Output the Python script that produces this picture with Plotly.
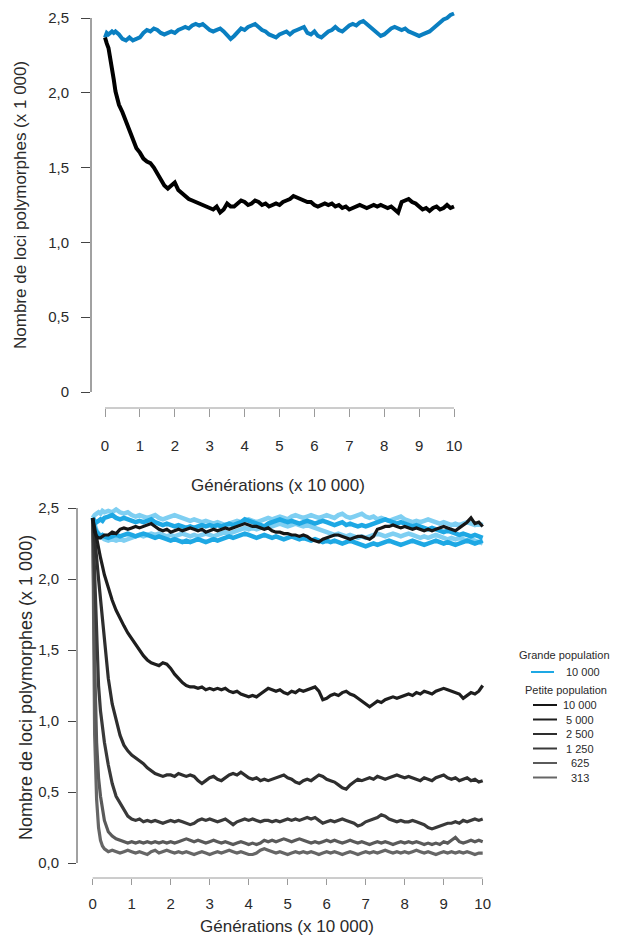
import plotly.graph_objects as go

# ---------------- data ----------------
GEN = [0, 0.02, 0.05, 0.1, 0.15, 0.2, 0.25, 0.3, 0.4, 0.5, 0.6, 0.7, 0.8, 0.9, 1.0,
       1.1, 1.2, 1.3, 1.4, 1.5, 1.6, 1.7, 1.8, 1.9, 2.0,
       2.1, 2.2, 2.3, 2.4, 2.5, 2.6, 2.7, 2.8, 2.9, 3.0,
       3.1, 3.2, 3.3, 3.4, 3.5, 3.6, 3.7, 3.8, 3.9, 4.0,
       4.1, 4.2, 4.3, 4.4, 4.5, 4.6, 4.7, 4.8, 4.9, 5.0,
       5.1, 5.2, 5.3, 5.4, 5.5, 5.6, 5.7, 5.8, 5.9, 6.0,
       6.1, 6.2, 6.3, 6.4, 6.5, 6.6, 6.7, 6.8, 6.9, 7.0,
       7.1, 7.2, 7.3, 7.4, 7.5, 7.6, 7.7, 7.8, 7.9, 8.0,
       8.1, 8.2, 8.3, 8.4, 8.5, 8.6, 8.7, 8.8, 8.9, 9.0,
       9.1, 9.2, 9.3, 9.4, 9.5, 9.6, 9.7, 9.8, 9.9, 10.0]

# Top chart
TOP_GRANDE = [2.37, 2.38, 2.40, 2.39, 2.40, 2.41, 2.40, 2.41, 2.39, 2.36, 2.35, 2.37, 2.35, 2.36, 2.37,
              2.40, 2.42, 2.41, 2.43, 2.42, 2.40, 2.39, 2.40, 2.41, 2.40,
              2.42, 2.43, 2.44, 2.43, 2.45, 2.46, 2.45, 2.46, 2.44, 2.42,
              2.41, 2.42, 2.43, 2.41, 2.38, 2.36, 2.38, 2.41, 2.43, 2.42,
              2.44, 2.45, 2.46, 2.44, 2.42, 2.41, 2.39, 2.38, 2.37, 2.39,
              2.40, 2.41, 2.39, 2.41, 2.42, 2.43, 2.44, 2.40, 2.39, 2.41,
              2.38, 2.37, 2.39, 2.41, 2.42, 2.44, 2.42, 2.41, 2.43, 2.45,
              2.46, 2.45, 2.47, 2.48, 2.46, 2.44, 2.42, 2.40, 2.38, 2.39,
              2.41, 2.43, 2.44, 2.43, 2.42, 2.43, 2.41, 2.40, 2.39, 2.38,
              2.39, 2.40, 2.41, 2.43, 2.45, 2.47, 2.49, 2.50, 2.52, 2.53]
TOP_PETITE = [2.37, 2.35, 2.33, 2.30, 2.24, 2.16, 2.09, 2.01, 1.92, 1.87, 1.81, 1.75, 1.68, 1.63, 1.60,
              1.56, 1.54, 1.53, 1.50, 1.46, 1.42, 1.38, 1.36, 1.38, 1.40,
              1.35, 1.33, 1.31, 1.29, 1.28, 1.27, 1.26, 1.25, 1.24, 1.23,
              1.22, 1.24, 1.20, 1.22, 1.26, 1.24, 1.24, 1.26, 1.28, 1.27,
              1.25, 1.26, 1.28, 1.27, 1.25, 1.26, 1.24, 1.25, 1.26, 1.25,
              1.27, 1.28, 1.29, 1.31, 1.30, 1.29, 1.28, 1.27, 1.27, 1.25,
              1.24, 1.25, 1.26, 1.25, 1.26, 1.24, 1.25, 1.23, 1.24, 1.22,
              1.23, 1.24, 1.25, 1.24, 1.23, 1.24, 1.25, 1.24, 1.25, 1.24,
              1.23, 1.24, 1.22, 1.20, 1.27, 1.28, 1.29, 1.27, 1.26, 1.24,
              1.22, 1.23, 1.21, 1.23, 1.24, 1.22, 1.23, 1.25, 1.23, 1.24]

# Bottom chart : grande population (10 000), four replicates
BOT_GRANDE_A = [2.43, 2.44, 2.45, 2.46, 2.47, 2.46, 2.48, 2.47, 2.48, 2.47, 2.49, 2.47, 2.46, 2.47, 2.45,
                2.44, 2.45, 2.44, 2.43, 2.44, 2.45, 2.43, 2.42, 2.43, 2.44,
                2.45, 2.44, 2.43, 2.42, 2.41, 2.42, 2.41, 2.40, 2.41, 2.40,
                2.39, 2.40, 2.39, 2.38, 2.39, 2.40, 2.41, 2.40, 2.41, 2.42,
                2.41, 2.40, 2.41, 2.42, 2.43, 2.42, 2.43, 2.44, 2.43, 2.42,
                2.44, 2.45, 2.44, 2.43, 2.44, 2.45, 2.44, 2.43, 2.44, 2.45,
                2.44, 2.43, 2.45, 2.46, 2.44, 2.43, 2.44, 2.45, 2.46, 2.44,
                2.43, 2.44, 2.42, 2.43, 2.42, 2.41, 2.42, 2.43, 2.44, 2.42,
                2.41, 2.40, 2.41, 2.40, 2.41, 2.42, 2.41, 2.40, 2.39, 2.40,
                2.39, 2.38, 2.39, 2.38, 2.39, 2.40, 2.39, 2.38, 2.39, 2.38]
BOT_GRANDE_B = [2.43, 2.42, 2.41, 2.40, 2.41, 2.42, 2.41, 2.43, 2.44, 2.45, 2.43, 2.42, 2.43, 2.42, 2.41,
                2.40, 2.41, 2.40, 2.41, 2.42, 2.40, 2.39, 2.38, 2.39, 2.38,
                2.37, 2.38, 2.37, 2.36, 2.37, 2.36, 2.37, 2.38, 2.37, 2.38,
                2.37, 2.38, 2.37, 2.38, 2.39, 2.38, 2.39, 2.40, 2.42, 2.41,
                2.40, 2.39, 2.38, 2.37, 2.39, 2.40, 2.41, 2.42, 2.41, 2.40,
                2.41, 2.40, 2.39, 2.40, 2.41, 2.40, 2.39, 2.40, 2.41, 2.40,
                2.39, 2.38, 2.39, 2.40, 2.38, 2.39, 2.38, 2.37, 2.38, 2.37,
                2.38, 2.39, 2.40, 2.41, 2.42, 2.41, 2.40, 2.39, 2.40, 2.39,
                2.38, 2.37, 2.38, 2.37, 2.36, 2.35, 2.36, 2.35, 2.34, 2.33,
                2.34, 2.33, 2.32, 2.31, 2.32, 2.31, 2.30, 2.31, 2.30, 2.29]
BOT_GRANDE_C = [2.43, 2.40, 2.36, 2.33, 2.31, 2.30, 2.31, 2.30, 2.29, 2.30, 2.31, 2.30, 2.31, 2.32, 2.31,
                2.30, 2.31, 2.32, 2.31, 2.30, 2.29, 2.30, 2.29, 2.28, 2.27,
                2.28, 2.27, 2.26, 2.27, 2.26, 2.27, 2.28, 2.27, 2.26, 2.27,
                2.28, 2.27, 2.28, 2.29, 2.30, 2.29, 2.30, 2.31, 2.32, 2.31,
                2.30, 2.29, 2.30, 2.31, 2.30, 2.29, 2.30, 2.29, 2.28, 2.29,
                2.30, 2.29, 2.28, 2.29, 2.28, 2.27, 2.28, 2.27, 2.26, 2.27,
                2.26, 2.27, 2.26, 2.25, 2.26, 2.27, 2.26, 2.25, 2.24, 2.23,
                2.24, 2.25, 2.24, 2.25, 2.26, 2.27, 2.26, 2.25, 2.24, 2.25,
                2.26, 2.27, 2.26, 2.25, 2.24, 2.25, 2.26, 2.27, 2.26, 2.25,
                2.26, 2.25, 2.24, 2.25, 2.26, 2.27, 2.26, 2.25, 2.26, 2.27]
BOT_GRANDE_D = [2.43, 2.41, 2.38, 2.34, 2.32, 2.30, 2.29, 2.28, 2.27, 2.28, 2.27, 2.28, 2.27, 2.28, 2.29,
                2.30, 2.31, 2.30, 2.31, 2.32, 2.31, 2.32, 2.31, 2.30, 2.31,
                2.30, 2.31, 2.32, 2.31, 2.30, 2.31, 2.30, 2.31, 2.32, 2.31,
                2.30, 2.31, 2.32, 2.33, 2.32, 2.33, 2.34, 2.35, 2.36, 2.35,
                2.36, 2.35, 2.36, 2.37, 2.38, 2.37, 2.38, 2.39, 2.38, 2.37,
                2.38, 2.39, 2.38, 2.37, 2.38, 2.37, 2.36, 2.35, 2.34, 2.33,
                2.32, 2.31, 2.32, 2.31, 2.30, 2.31, 2.30, 2.29, 2.30, 2.29,
                2.30, 2.31, 2.32, 2.31, 2.30, 2.31, 2.32, 2.31, 2.30, 2.31,
                2.32, 2.31, 2.30, 2.29, 2.30, 2.29, 2.30, 2.31, 2.30, 2.29,
                2.28, 2.29, 2.28, 2.29, 2.28, 2.27, 2.28, 2.27, 2.26, 2.25]

# Bottom chart : petite population
BOT_PETITE_10000 = [2.43, 2.38, 2.33, 2.30, 2.29, 2.29, 2.30, 2.31, 2.31, 2.33, 2.32, 2.35, 2.36, 2.35, 2.36,
                    2.37, 2.36, 2.37, 2.38, 2.39, 2.37, 2.35, 2.34, 2.35, 2.33,
                    2.34, 2.35, 2.34, 2.35, 2.36, 2.35, 2.34, 2.35, 2.33, 2.34,
                    2.35, 2.34, 2.35, 2.36, 2.35, 2.36, 2.37, 2.38, 2.39, 2.38,
                    2.37, 2.37, 2.36, 2.35, 2.36, 2.34, 2.33, 2.33, 2.32, 2.32,
                    2.31, 2.31, 2.30, 2.31, 2.30, 2.28, 2.27, 2.26, 2.28, 2.29,
                    2.30, 2.31, 2.31, 2.30, 2.29, 2.28, 2.29, 2.30, 2.30, 2.29,
                    2.28, 2.30, 2.35, 2.36, 2.37, 2.37, 2.38, 2.37, 2.36, 2.37,
                    2.36, 2.35, 2.36, 2.35, 2.34, 2.35, 2.34, 2.35, 2.36, 2.37,
                    2.36, 2.35, 2.34, 2.36, 2.38, 2.40, 2.43, 2.39, 2.40, 2.37]
BOT_PETITE_5000 = [2.43, 2.40, 2.36, 2.29, 2.22, 2.15, 2.09, 2.03, 1.94, 1.85, 1.78, 1.72, 1.67, 1.62, 1.58,
                   1.54, 1.50, 1.46, 1.43, 1.41, 1.40, 1.39, 1.41, 1.40, 1.37,
                   1.33, 1.30, 1.27, 1.25, 1.24, 1.24, 1.23, 1.24, 1.22, 1.23,
                   1.22, 1.23, 1.22, 1.23, 1.21, 1.20, 1.21, 1.19, 1.18, 1.17,
                   1.18, 1.17, 1.19, 1.21, 1.23, 1.22, 1.21, 1.22, 1.20, 1.19,
                   1.21, 1.20, 1.22, 1.21, 1.22, 1.23, 1.24, 1.21, 1.15, 1.16,
                   1.18, 1.19, 1.18, 1.20, 1.21, 1.19, 1.18, 1.16, 1.14, 1.12,
                   1.10, 1.12, 1.14, 1.13, 1.15, 1.16, 1.17, 1.16, 1.17, 1.18,
                   1.19, 1.18, 1.20, 1.19, 1.21, 1.20, 1.19, 1.21, 1.22, 1.23,
                   1.22, 1.21, 1.20, 1.19, 1.16, 1.18, 1.20, 1.19, 1.21, 1.25]
BOT_PETITE_2500 = [2.43, 2.38, 2.30, 2.15, 2.00, 1.85, 1.70, 1.56, 1.30, 1.12, 1.00, 0.90, 0.83, 0.79, 0.76,
                   0.74, 0.72, 0.70, 0.67, 0.65, 0.63, 0.62, 0.61, 0.62, 0.62,
                   0.61, 0.63, 0.62, 0.61, 0.62, 0.61, 0.58, 0.56, 0.58, 0.60,
                   0.61, 0.59, 0.58, 0.60, 0.62, 0.63, 0.62, 0.64, 0.62, 0.60,
                   0.59, 0.60, 0.58, 0.59, 0.58, 0.59, 0.60, 0.61, 0.62, 0.60,
                   0.59, 0.57, 0.56, 0.58, 0.59, 0.58, 0.60, 0.62, 0.61, 0.59,
                   0.58, 0.57, 0.55, 0.53, 0.52, 0.55, 0.57, 0.59, 0.58, 0.59,
                   0.60, 0.59, 0.61, 0.60, 0.59, 0.60, 0.61, 0.62, 0.61, 0.60,
                   0.61, 0.60, 0.59, 0.58, 0.60, 0.59, 0.58, 0.60, 0.61, 0.62,
                   0.60, 0.59, 0.60, 0.58, 0.59, 0.60, 0.58, 0.59, 0.57, 0.58]
BOT_PETITE_1250 = [2.43, 2.25, 2.00, 1.55, 1.25, 1.07, 0.95, 0.85, 0.69, 0.56, 0.47, 0.42, 0.37, 0.33, 0.31,
                   0.30, 0.31, 0.29, 0.30, 0.29, 0.30, 0.29, 0.28, 0.29, 0.30,
                   0.29, 0.30, 0.29, 0.28, 0.27, 0.28, 0.30, 0.31, 0.30, 0.31,
                   0.30, 0.29, 0.30, 0.31, 0.29, 0.27, 0.29, 0.30, 0.31, 0.30,
                   0.31, 0.30, 0.29, 0.30, 0.30, 0.29, 0.30, 0.29, 0.30, 0.31,
                   0.30, 0.31, 0.30, 0.31, 0.32, 0.31, 0.32, 0.30, 0.28, 0.29,
                   0.30, 0.29, 0.30, 0.31, 0.30, 0.29, 0.28, 0.26, 0.27, 0.29,
                   0.30, 0.31, 0.32, 0.34, 0.33, 0.31, 0.30, 0.29, 0.30, 0.29,
                   0.29, 0.30, 0.29, 0.28, 0.27, 0.25, 0.24, 0.25, 0.26, 0.27,
                   0.28, 0.28, 0.29, 0.28, 0.30, 0.29, 0.30, 0.31, 0.30, 0.31]
BOT_PETITE_625 = [2.43, 2.00, 1.40, 0.85, 0.60, 0.47, 0.38, 0.30, 0.22, 0.19, 0.17, 0.16, 0.15, 0.14, 0.15,
                  0.14, 0.15, 0.14, 0.15, 0.14, 0.15, 0.14, 0.15, 0.14, 0.15,
                  0.14, 0.15, 0.16, 0.17, 0.16, 0.15, 0.16, 0.15, 0.14, 0.15,
                  0.16, 0.15, 0.14, 0.15, 0.14, 0.13, 0.14, 0.15, 0.14, 0.13,
                  0.14, 0.13, 0.14, 0.16, 0.15, 0.16, 0.15, 0.16, 0.17, 0.16,
                  0.15, 0.16, 0.17, 0.16, 0.15, 0.14, 0.15, 0.14, 0.15, 0.16,
                  0.15, 0.16, 0.15, 0.14, 0.15, 0.16, 0.15, 0.14, 0.15, 0.14,
                  0.13, 0.14, 0.15, 0.14, 0.15, 0.14, 0.13, 0.14, 0.15, 0.14,
                  0.15, 0.14, 0.15, 0.14, 0.13, 0.14, 0.13, 0.14, 0.13, 0.15,
                  0.14, 0.16, 0.18, 0.15, 0.14, 0.15, 0.16, 0.15, 0.16, 0.15]
BOT_PETITE_313 = [2.43, 1.60, 0.90, 0.45, 0.25, 0.16, 0.12, 0.10, 0.08, 0.09, 0.08, 0.07, 0.08, 0.09, 0.08,
                  0.07, 0.08, 0.07, 0.06, 0.08, 0.09, 0.07, 0.08, 0.09, 0.08,
                  0.07, 0.08, 0.07, 0.08, 0.07, 0.06, 0.07, 0.08, 0.07, 0.06,
                  0.07, 0.08, 0.07, 0.08, 0.09, 0.08, 0.07, 0.08, 0.07, 0.06,
                  0.06, 0.07, 0.09, 0.10, 0.09, 0.08, 0.07, 0.08, 0.07, 0.06,
                  0.07, 0.08, 0.07, 0.08, 0.07, 0.08, 0.07, 0.06, 0.07, 0.08,
                  0.07, 0.08, 0.07, 0.06, 0.07, 0.08, 0.07, 0.06, 0.07, 0.08,
                  0.07, 0.08, 0.07, 0.08, 0.09, 0.08, 0.07, 0.08, 0.07, 0.08,
                  0.07, 0.08, 0.09, 0.08, 0.07, 0.08, 0.07, 0.06, 0.07, 0.08,
                  0.07, 0.08, 0.07, 0.08, 0.07, 0.08, 0.07, 0.06, 0.07, 0.07]

Y_TICKS = [0, 0.5, 1.0, 1.5, 2.0, 2.5]
TOP_Y_LABELS = ["0", "0,5", "1,0", "1,5", "2,0", "2,5"]
BOT_Y_LABELS = ["0,0", "0,5", "1,0", "1,5", "2,0", "2,5"]
X_TICKS = [0, 1, 2, 3, 4, 5, 6, 7, 8, 9, 10]
X_LABELS = ["0", "1", "2", "3", "4", "5", "6", "7", "8", "9", "10"]

LEGEND_GRANDE = ["10 000"]
LEGEND_PETITE = ["10 000", "5 000", "2 500", "1 250", "625", "313"]

for s in [TOP_GRANDE, TOP_PETITE, BOT_GRANDE_A, BOT_GRANDE_B, BOT_GRANDE_C, BOT_GRANDE_D,
          BOT_PETITE_10000, BOT_PETITE_5000, BOT_PETITE_2500, BOT_PETITE_1250,
          BOT_PETITE_625, BOT_PETITE_313]:
    assert len(s) == len(GEN), len(s)

# ---------------- styles ----------------
W, H = 617, 937
FONT = "Liberation Sans, Arial, sans-serif"
TXT = "#2a2a2a"
TOP_BLUE = "#0a7fc1"
SKY = "#1ea8e4"
LIGHT_SKY = "#7fcff2"
PETITE_COLORS = ["#161616", "#1e1e1e", "#2e2e2e", "#3a3a3a", "#5a5a5a", "#666666"]


def px(xp):
    return xp / W


def py(yp):
    return 1 - yp / H


fig = go.Figure()

# top chart
fig.add_trace(go.Scatter(x=GEN, y=TOP_GRANDE, mode="lines", line=dict(color=TOP_BLUE, width=4),
                         xaxis="x", yaxis="y", hoverinfo="skip", showlegend=False))
fig.add_trace(go.Scatter(x=GEN, y=TOP_PETITE, mode="lines", line=dict(color="#000000", width=4),
                         xaxis="x", yaxis="y", hoverinfo="skip", showlegend=False))

# bottom chart : blue replicates
for ser, col in [(BOT_GRANDE_A, LIGHT_SKY), (BOT_GRANDE_D, LIGHT_SKY),
                 (BOT_GRANDE_B, SKY), (BOT_GRANDE_C, SKY)]:
    fig.add_trace(go.Scatter(x=GEN, y=ser, mode="lines", line=dict(color=col, width=4.5),
                             xaxis="x2", yaxis="y2", hoverinfo="skip", showlegend=False))

petites = [BOT_PETITE_10000, BOT_PETITE_5000, BOT_PETITE_2500, BOT_PETITE_1250,
           BOT_PETITE_625, BOT_PETITE_313]
for ser, col in reversed(list(zip(petites, PETITE_COLORS))):
    fig.add_trace(go.Scatter(x=GEN, y=ser, mode="lines", line=dict(color=col, width=3.2),
                             xaxis="x2", yaxis="y2", hoverinfo="skip", showlegend=False))

# ---------------- axes ----------------
# top: x=0 at 105px, x=10 at 454px ; y=0 at 392px, y=2.5 at 18px
tx0, tx10, ty0, ty25 = 105, 454, 392, 18
tsx = (tx10 - tx0) / 10
tsy = (ty0 - ty25) / 2.5
t_dom_x = (91, 468)
t_dom_y = (5, 408)   # top, bottom pixel

# bottom: x=0 at 92.7px, x=10 at 482.7 ; y=0 at 863, y=2.5 at 508
bx0, bx10, by0, by25 = 92.7, 482.7, 863, 508
bsx = (bx10 - bx0) / 10
bsy = (by0 - by25) / 2.5
b_dom_x = (77, 494)
b_dom_y = (488, 878)

tick_font = dict(family=FONT, size=15, color=TXT)

fig.update_layout(
    width=W, height=H, autosize=False,
    margin=dict(l=0, r=0, t=0, b=0),
    paper_bgcolor="white", plot_bgcolor="white",
    showlegend=False,
    xaxis=dict(domain=[px(t_dom_x[0]), px(t_dom_x[1])],
               range=[(t_dom_x[0] - tx0) / tsx, (t_dom_x[1] - tx0) / tsx],
               anchor="y", showgrid=False, zeroline=False, showline=False,
               tickmode="array", tickvals=X_TICKS, ticktext=X_LABELS,
               ticks="outside", ticklen=8, tickwidth=1, tickcolor="#9a9a9a",
               ticklabelstandoff=16, tickfont=tick_font, fixedrange=True),
    yaxis=dict(domain=[py(t_dom_y[1]), py(t_dom_y[0])],
               range=[(ty0 - t_dom_y[1]) / tsy, (ty0 - t_dom_y[0]) / tsy],
               anchor="x", showgrid=False, zeroline=False, showline=False,
               tickmode="array", tickvals=Y_TICKS, ticktext=TOP_Y_LABELS,
               ticks="outside", ticklen=9, tickwidth=1, tickcolor="#444444",
               ticklabelstandoff=9, tickfont=tick_font, fixedrange=True),
    xaxis2=dict(domain=[px(b_dom_x[0]), px(b_dom_x[1])],
                range=[(b_dom_x[0] - bx0) / bsx, (b_dom_x[1] - bx0) / bsx],
                anchor="y2", showgrid=False, zeroline=False, showline=False,
                tickmode="array", tickvals=X_TICKS, ticktext=X_LABELS,
                ticks="outside", ticklen=6, tickwidth=1, tickcolor="#9a9a9a",
                ticklabelstandoff=6, tickfont=tick_font, fixedrange=True),
    yaxis2=dict(domain=[py(b_dom_y[1]), py(b_dom_y[0])],
                range=[(by0 - b_dom_y[1]) / bsy, (by0 - b_dom_y[0]) / bsy],
                anchor="x2", showgrid=False, zeroline=False, showline=False,
                tickmode="array", tickvals=Y_TICKS, ticktext=BOT_Y_LABELS,
                ticks="outside", ticklen=8, tickwidth=1, tickcolor="#444444",
                ticklabelstandoff=6, tickfont=tick_font, fixedrange=True),
)

shapes = [
    # axis lines spanning only the data extent
    dict(type="line", xref="paper", yref="y", x0=px(t_dom_x[0]), x1=px(t_dom_x[0]),
         y0=Y_TICKS[0], y1=Y_TICKS[-1], line=dict(color="#444444", width=1)),
    dict(type="line", xref="x", yref="paper", x0=X_TICKS[0], x1=X_TICKS[-1],
         y0=py(t_dom_y[1]), y1=py(t_dom_y[1]), line=dict(color="#9a9a9a", width=1)),
    dict(type="line", xref="paper", yref="y2", x0=px(b_dom_x[0]), x1=px(b_dom_x[0]),
         y0=Y_TICKS[0], y1=Y_TICKS[-1], line=dict(color="#444444", width=1)),
    dict(type="line", xref="x2", yref="paper", x0=X_TICKS[0], x1=X_TICKS[-1],
         y0=py(b_dom_y[1]), y1=py(b_dom_y[1]), line=dict(color="#9a9a9a", width=1)),
]

annotations = [
    dict(text="Nombre de loci polymorphes (x 1 000)", x=px(20), y=py(205), xref="paper", yref="paper",
         textangle=-90, showarrow=False, font=dict(family=FONT, size=17, color=TXT),
         xanchor="center", yanchor="middle"),
    dict(text="Générations (x 10 000)", x=px(278), y=py(485), xref="paper", yref="paper",
         showarrow=False, font=dict(family=FONT, size=17, color=TXT),
         xanchor="center", yanchor="middle"),
    dict(text="Nombre de loci polymorphes (x 1 000)", x=px(26), y=py(688), xref="paper", yref="paper",
         textangle=-90, showarrow=False, font=dict(family=FONT, size=18, color=TXT),
         xanchor="center", yanchor="middle"),
    dict(text="Générations (x 10 000)", x=px(287), y=py(926), xref="paper", yref="paper",
         showarrow=False, font=dict(family=FONT, size=17, color=TXT),
         xanchor="center", yanchor="middle"),
]

# ---------------- legend (bottom chart) ----------------
leg_font = dict(family=FONT, size=11, color=TXT)
annotations.append(dict(text="Grande population", x=px(564), y=py(655), xref="paper", yref="paper",
                        showarrow=False, font=leg_font, xanchor="center", yanchor="middle"))
shapes.append(dict(type="line", xref="paper", yref="paper", x0=px(531), x1=px(554),
                   y0=py(672), y1=py(672), line=dict(color=SKY, width=2)))
annotations.append(dict(text=LEGEND_GRANDE[0], x=px(583), y=py(672), xref="paper", yref="paper",
                        showarrow=False, font=leg_font, xanchor="center", yanchor="middle"))
annotations.append(dict(text="Petite population", x=px(566), y=py(690), xref="paper", yref="paper",
                        showarrow=False, font=leg_font, xanchor="center", yanchor="middle"))
for i, (lab, col) in enumerate(zip(LEGEND_PETITE, PETITE_COLORS)):
    yy = 705 + i * 14.5
    shapes.append(dict(type="line", xref="paper", yref="paper", x0=px(533), x1=px(557),
                       y0=py(yy), y1=py(yy), line=dict(color=col, width=2)))
    annotations.append(dict(text=lab, x=px(580), y=py(yy), xref="paper", yref="paper",
                            showarrow=False, font=leg_font, xanchor="center", yanchor="middle"))

fig.update_layout(shapes=shapes, annotations=annotations)

fig.write_html(
    "out.html",
    config={"displayModeBar": False},
    post_script="document.documentElement.style.margin='0';document.body.style.margin='0';"
                "document.body.style.padding='0';document.body.style.overflow='hidden';",
)
